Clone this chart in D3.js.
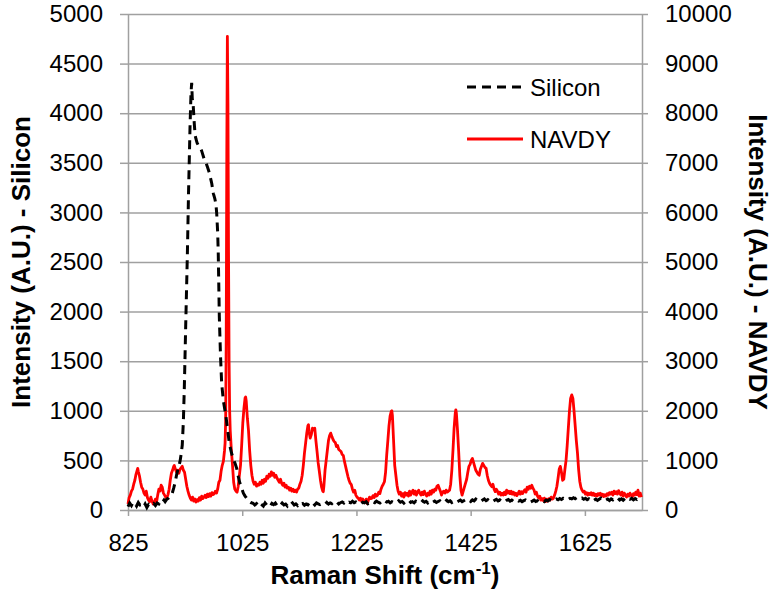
<!DOCTYPE html>
<html>
<head>
<meta charset="utf-8">
<script src="https://cdn.jsdelivr.net/npm/d3@7"></script>
<style>
  html, body { margin: 0; padding: 0; background: #fff; }
  svg { display: block; font-family: "Liberation Sans", Arial, sans-serif; }
</style>
</head>
<body>
<svg id="chart" width="773" height="595"></svg>
<script>
// ---------------- DATA ----------------
const xTicks = [825, 1025, 1225, 1425, 1625];
const xDomain = [825, 1725];
const leftTicks = [0, 500, 1000, 1500, 2000, 2500, 3000, 3500, 4000, 4500, 5000];
const rightTicks = [0, 1000, 2000, 3000, 4000, 5000, 6000, 7000, 8000, 9000, 10000];
const seriesNames = ["Silicon", "NAVDY"];

// Silicon: [Raman shift, intensity] (left axis)
const siliconPoints = [
[825,33],[828,70],[831,45],[834,80],[837,68],[840,40],[843,75],[846,50],[849,55],[852,30],
[855,60],[858,25],[861,55],[864,40],[867,50],[870,65],[873,45],[876,70],[879,60],[882,90],
[885,75],[888,100],[890,84],[893,110],[896,120],[899,140],[902,160],[905,220],[908,290],[910,353],
[913,420],[916,487],[918,560],[920,655],[922,900],[923.6,1227],[926,1850],[929,2590],[931,3200],[933.6,3864],
[935.3,4200],[936.5,4307],[937.5,4150],[939.3,4066],[941,3900],[942.5,3780],[944,3740],[946,3700],[948,3679],[951,3660],
[954,3620],[958,3545],[961.6,3500],[964,3460],[967.4,3400],[971.6,3293],[974.4,3192],[977,3140],[979,3080],[980.3,2991],
[982,2800],[983,2600],[984.9,1949],[987,1550],[989,1277],[992,1100],[996.6,940],[1000.6,756],[1002.4,672],[1006,580],
[1009,520],[1012.4,471],[1015.3,420],[1018,340],[1021,269],[1024,219],[1027,170],[1030,140],[1032.8,118],[1036,90],
[1040,75],[1044,68],[1047,50],[1050,65],[1053,45],[1056,70],[1059,55],[1062,40],[1065,72],[1068,50],
[1071,60],[1074,38],[1077,66],[1080,55],[1083,70],[1086,45],[1089,62],[1092,48],[1095,70],[1098,52],
[1101,60],[1104,40],[1107,68],[1110,56],[1113,72],[1116,50],[1119,62],[1122,45],[1125,70],[1128,58],
[1131,66],[1134,48],[1137,60],[1140,52],[1143,75],[1146,60],[1149,68],[1152,50],[1155,72],[1158,62],
[1161,55],[1164,66],[1167,70],[1170,58],[1173,76],[1176,60],[1179,72],[1182,64],[1185,80],[1188,66],
[1191,78],[1194,60],[1197,74],[1200,82],[1203,70],[1206,86],[1209,68],[1212,78],[1215,72],[1218,88],
[1221,74],[1224,82],[1227,70],[1230,80],[1233,66],[1236,78],[1239,72],[1242,84],[1245,64],[1248,76],
[1251,68],[1254,82],[1257,74],[1260,90],[1263,78],[1266,70],[1269,86],[1272,74],[1275,92],[1278,80],
[1281,88],[1284,72],[1287,84],[1290,76],[1293,90],[1296,80],[1299,94],[1302,78],[1305,86],[1308,70],
[1311,88],[1314,82],[1317,96],[1320,76],[1323,84],[1326,72],[1329,90],[1332,80],[1335,86],[1338,74],
[1341,92],[1344,78],[1347,88],[1350,70],[1353,84],[1356,96],[1359,80],[1362,90],[1365,76],[1368,86],
[1371,94],[1374,78],[1377,90],[1380,82],[1383,98],[1386,84],[1389,92],[1392,76],[1395,88],[1398,96],
[1401,80],[1404,90],[1407,100],[1410,84],[1413,94],[1416,104],[1419,88],[1422,98],[1425,86],[1428,102],
[1431,92],[1434,110],[1437,96],[1440,104],[1443,88],[1446,100],[1449,112],[1452,94],[1455,104],[1458,90],
[1461,100],[1464,86],[1467,98],[1470,108],[1473,92],[1476,102],[1479,88],[1482,96],[1485,84],[1488,98],
[1491,106],[1494,90],[1497,100],[1500,86],[1503,96],[1506,104],[1509,90],[1512,98],[1515,84],[1518,94],
[1521,102],[1524,88],[1527,96],[1530,82],[1533,90],[1536,100],[1539,86],[1542,94],[1545,80],[1548,88],
[1551,96],[1554,84],[1557,100],[1560,92],[1563,106],[1566,96],[1569,110],[1572,100],[1575,112],[1578,104],
[1581,116],[1584,106],[1587,118],[1590,110],[1593,120],[1596,108],[1599,118],[1602,112],[1605,124],[1608,114],
[1611,126],[1614,118],[1617,110],[1620,120],[1623,108],[1626,118],[1629,104],[1632,114],[1635,100],[1638,112],
[1641,98],[1644,110],[1647,96],[1650,108],[1653,120],[1656,104],[1659,114],[1662,100],[1665,110],[1668,96],
[1671,112],[1674,102],[1677,116],[1680,104],[1683,118],[1686,100],[1689,112],[1692,98],[1695,114],[1698,104],
[1701,120],[1704,108],[1707,118],[1710,102],[1713,116],[1716,106],[1719,122],[1722,110],[1724,118]
];

// NAVDY: [Raman shift, intensity] (right axis)
const navdyPoints = [
[825,120],[827,250],[829,300],[831,380],[833,420],[835,520],[837,600],[839,720],[841,800],[842,840],
[843,780],[845,690],[847,560],[849,460],[851,420],[853,340],[855,300],[857,380],[859,250],[861,200],
[863,170],[865,260],[867,180],[869,120],[871,150],[873,220],[875,160],[877,300],[879,420],[881,380],
[883,500],[885,460],[887,340],[889,300],[891,260],[893,240],[895,310],[897,420],[899,600],[901,740],
[903,800],[905,880],[906,900],[908,820],[910,760],[912,800],[914,740],[916,820],[918,850],[920,880],
[922,800],[924,760],[926,620],[928,480],[930,380],[932,300],[934,240],[936,200],[938,260],[940,180],
[942,220],[944,160],[946,210],[948,180],[950,250],[952,200],[954,280],[956,230],[958,260],[960,300],
[962,250],[964,320],[966,270],[968,330],[970,280],[972,350],[974,310],[976,330],[978,380],[980,340],
[982,420],[984,560],[986,600],[988,780],[990,900],[992,980],[994,1200],[995,1350],[996,1800],[997,3500],
[998,7200],[999,9550],[1000,8200],[1001,5200],[1002,3000],[1003,2000],[1004,1600],[1006,1200],[1008,900],[1010,560],
[1012,420],[1014,380],[1016,360],[1018,480],[1020,700],[1022,900],[1024,1300],[1026,1750],[1028,2050],[1030,2260],
[1031,2280],[1032,2200],[1034,1850],[1036,1600],[1038,1200],[1040,900],[1042,700],[1044,580],[1046,520],[1048,560],
[1050,480],[1052,520],[1054,500],[1056,560],[1058,520],[1060,600],[1062,540],[1064,620],[1066,580],[1068,680],
[1070,640],[1072,720],[1074,680],[1076,770],[1078,700],[1080,740],[1082,660],[1084,700],[1086,640],[1088,600],
[1090,560],[1092,620],[1094,540],[1096,500],[1098,540],[1100,460],[1102,500],[1104,440],[1106,460],[1108,400],
[1110,440],[1112,380],[1114,420],[1116,370],[1118,400],[1120,360],[1122,420],[1124,440],[1126,520],[1128,580],
[1130,700],[1132,900],[1134,1150],[1136,1350],[1138,1550],[1140,1700],[1141,1720],[1142,1580],[1144,1450],[1146,1520],
[1148,1650],[1150,1620],[1152,1650],[1154,1400],[1156,1180],[1158,950],[1160,780],[1162,600],[1164,460],[1166,380],
[1167,370],[1168,480],[1170,800],[1172,1000],[1174,1200],[1176,1400],[1178,1500],[1180,1550],[1182,1480],[1184,1420],
[1186,1380],[1188,1360],[1190,1280],[1192,1300],[1194,1220],[1196,1200],[1198,1180],[1200,1120],[1202,1100],[1204,980],
[1206,880],[1208,780],[1210,680],[1212,600],[1214,540],[1216,510],[1218,420],[1220,360],[1222,400],[1224,300],
[1226,260],[1228,240],[1230,200],[1232,240],[1234,180],[1236,220],[1238,150],[1240,170],[1242,220],[1244,130],
[1246,200],[1248,260],[1250,230],[1252,240],[1254,290],[1256,250],[1258,320],[1260,280],[1262,300],[1264,360],
[1266,330],[1268,420],[1270,480],[1272,520],[1274,570],[1276,760],[1278,1110],[1280,1400],[1282,1700],[1284,1900],
[1286,1990],[1287,2000],[1288,1900],[1290,1400],[1292,900],[1294,700],[1296,500],[1298,380],[1300,320],[1302,360],
[1304,280],[1306,330],[1308,260],[1310,350],[1312,300],[1314,340],[1316,280],[1318,380],[1320,300],[1322,360],
[1324,400],[1326,320],[1328,380],[1330,300],[1332,360],[1334,400],[1336,340],[1338,300],[1340,360],[1342,310],
[1344,380],[1346,320],[1348,280],[1350,340],[1352,300],[1354,380],[1356,320],[1358,400],[1360,360],[1362,420],
[1364,400],[1366,480],[1368,500],[1370,440],[1372,380],[1374,300],[1376,360],[1378,380],[1380,340],[1382,400],
[1384,360],[1386,380],[1388,400],[1390,520],[1392,800],[1394,1200],[1396,1650],[1398,1950],[1399,2020],[1400,1950],
[1402,1600],[1404,1180],[1406,700],[1408,400],[1410,300],[1412,380],[1414,460],[1416,540],[1418,620],[1420,760],
[1422,880],[1424,920],[1426,1000],[1428,1040],[1430,960],[1432,880],[1434,800],[1436,760],[1438,720],[1440,700],
[1442,820],[1444,880],[1446,940],[1448,900],[1450,860],[1452,840],[1454,700],[1456,600],[1458,540],[1460,500],
[1462,470],[1464,520],[1466,420],[1468,370],[1470,420],[1472,380],[1474,320],[1476,360],[1478,300],[1480,340],
[1482,300],[1484,360],[1486,310],[1488,400],[1490,340],[1492,380],[1494,330],[1496,380],[1498,320],[1500,360],
[1502,300],[1504,340],[1506,290],[1508,330],[1510,380],[1512,320],[1514,370],[1516,330],[1518,380],[1520,410],
[1522,360],[1524,460],[1526,420],[1528,480],[1530,440],[1532,500],[1534,440],[1536,400],[1538,320],[1540,360],
[1542,280],[1544,240],[1546,280],[1548,200],[1550,230],[1552,190],[1554,240],[1556,170],[1558,220],[1560,180],
[1562,230],[1564,200],[1566,260],[1568,220],[1570,240],[1572,300],[1574,380],[1576,480],[1578,640],[1580,820],
[1582,880],[1584,760],[1586,600],[1588,620],[1590,820],[1592,1000],[1594,1300],[1596,1650],[1598,2000],[1600,2250],
[1602,2320],[1604,2250],[1606,2000],[1608,1700],[1610,1400],[1612,1150],[1614,820],[1616,580],[1618,460],[1620,400],
[1622,360],[1624,380],[1626,320],[1628,350],[1630,300],[1632,340],[1634,310],[1636,350],[1638,300],[1640,340],
[1642,290],[1644,320],[1646,280],[1648,330],[1650,300],[1652,340],[1654,290],[1656,320],[1658,270],[1660,310],
[1662,280],[1664,330],[1666,300],[1668,350],[1670,320],[1672,360],[1674,300],[1676,380],[1678,330],[1680,370],
[1682,320],[1684,390],[1686,340],[1688,300],[1690,360],[1692,280],[1694,340],[1696,300],[1698,260],[1700,320],
[1702,280],[1704,340],[1706,300],[1708,260],[1710,330],[1712,300],[1714,360],[1716,310],[1718,400],[1720,280],
[1722,340],[1724,260]
];

// ---------------- LAYOUT ----------------
const plot = { left: 128, right: 642, top: 14, bottom: 510 };
const gridColor = "#a0a0a0";
const fontFamily = '"Liberation Sans", Arial, sans-serif';
const fmt = d3.format("d");

const svg = d3.select("#chart");

const x = d3.scaleLinear().domain(xDomain).range([plot.left, plot.right]);
const yL = d3.scaleLinear().domain([0, 5000]).range([plot.bottom, plot.top]);
const yR = d3.scaleLinear().domain([0, 10000]).range([plot.bottom, plot.top]);

// Gridlines
svg.append("g")
  .attr("transform", `translate(${plot.left},0)`)
  .call(d3.axisLeft(yL).tickValues(leftTicks).tickSize(-(plot.right - plot.left)).tickFormat(""))
  .call(g => g.select(".domain").remove())
  .call(g => g.selectAll("line").attr("stroke", gridColor).attr("stroke-width", 1.5));

// Left axis
const gL = svg.append("g")
  .attr("transform", `translate(${plot.left},0)`)
  .call(d3.axisLeft(yL).tickValues(leftTicks).tickFormat(fmt).tickSize(8).tickPadding(17).tickSizeOuter(0));
// Right axis
const gR = svg.append("g")
  .attr("transform", `translate(${plot.right},0)`)
  .call(d3.axisRight(yR).tickValues(rightTicks).tickFormat(fmt).tickSize(6).tickPadding(17).tickSizeOuter(0));
// Bottom axis
const gB = svg.append("g")
  .attr("transform", `translate(0,${plot.bottom})`)
  .call(d3.axisBottom(x).tickValues(xTicks).tickFormat(fmt).tickSize(6).tickPadding(18).tickSizeOuter(0));

[gL, gR, gB].forEach(g => {
  g.select(".domain").attr("stroke", gridColor).attr("stroke-width", 1.5);
  g.selectAll(".tick line").attr("stroke", gridColor).attr("stroke-width", 1.5);
  g.selectAll(".tick text")
    .attr("fill", "#000")
    .style("font-family", fontFamily)
    .style("font-size", "24px");
});

// Lines
const lineL = d3.line().x(d => x(d[0])).y(d => yL(d[1]));
const lineR = d3.line().x(d => x(d[0])).y(d => yR(d[1]));

svg.append("path")
  .datum(navdyPoints)
  .attr("d", lineR)
  .attr("fill", "none")
  .attr("stroke", "#ff0000")
  .attr("stroke-width", 2.8)
  .attr("stroke-linejoin", "round");

svg.append("path")
  .datum(siliconPoints)
  .attr("d", lineL)
  .attr("fill", "none")
  .attr("stroke", "#000")
  .attr("stroke-width", 3)
  .attr("stroke-dasharray", "9,6");

// Legend
const legend = svg.append("g");
const legendRows = [
  { name: seriesNames[0], y: 87, stroke: "#000", dash: "9,6", w: 3 },
  { name: seriesNames[1], y: 139, stroke: "#ff0000", dash: null, w: 2.8 }
];
legendRows.forEach(r => {
  legend.append("line")
    .attr("x1", 467).attr("x2", 523).attr("y1", r.y).attr("y2", r.y)
    .attr("stroke", r.stroke).attr("stroke-width", r.w)
    .attr("stroke-dasharray", r.dash);
  legend.append("text")
    .attr("x", 530).attr("y", r.y)
    .attr("dominant-baseline", "central")
    .style("font-family", fontFamily).style("font-size", "24px")
    .text(r.name);
});

// Axis titles
svg.append("text")
  .attr("transform", `translate(30,${(plot.top + plot.bottom) / 2}) rotate(-90)`)
  .attr("text-anchor", "middle")
  .style("font-family", fontFamily).style("font-size", "26px").style("font-weight", "bold")
  .text("Intensity (A.U.) - Silicon");

svg.append("text")
  .attr("transform", `translate(749,${(plot.top + plot.bottom) / 2}) rotate(90)`)
  .attr("text-anchor", "middle")
  .style("font-family", fontFamily).style("font-size", "26px").style("font-weight", "bold")
  .text("Intensity (A.U.) - NAVDY");

const xt = svg.append("text")
  .attr("x", (plot.left + plot.right) / 2).attr("y", 584)
  .attr("text-anchor", "middle")
  .style("font-family", fontFamily).style("font-size", "26px").style("font-weight", "bold");
xt.append("tspan").text("Raman Shift (cm");
xt.append("tspan").attr("dy", -10).style("font-size", "17px").text("-1");
xt.append("tspan").attr("dy", 10).text(")");
</script>
</body>
</html>
